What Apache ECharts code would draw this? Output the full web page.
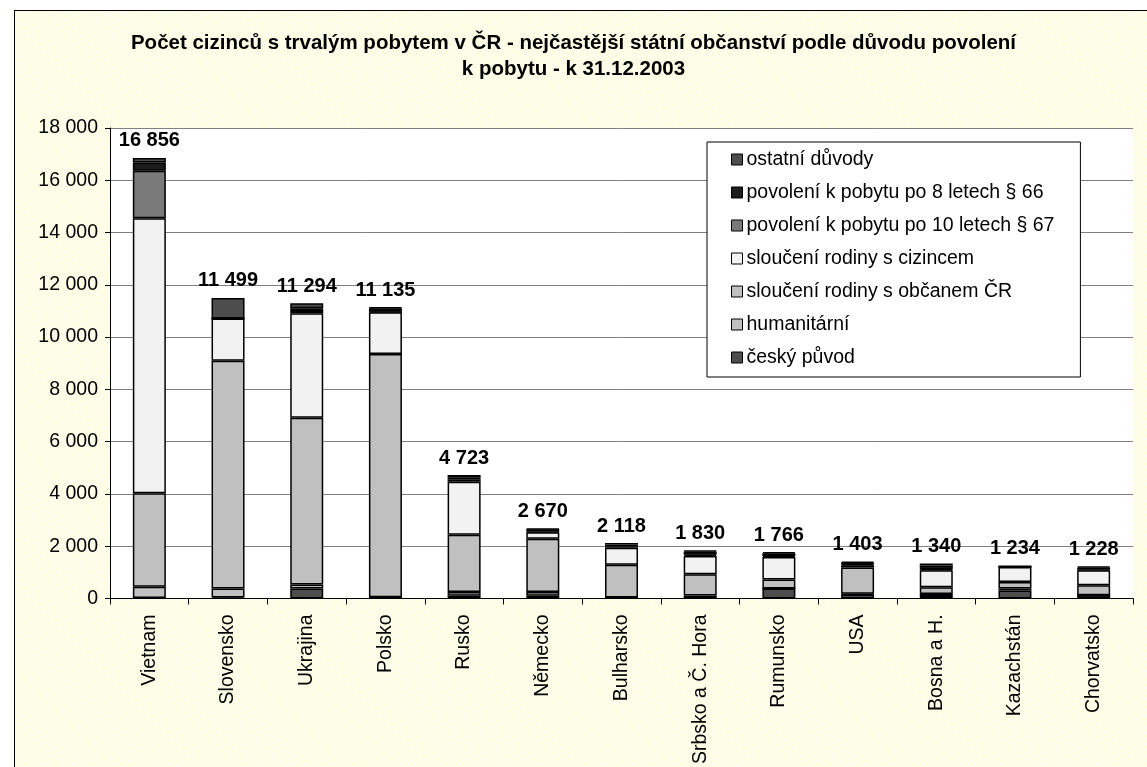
<!DOCTYPE html>
<html>
<head>
<meta charset="utf-8">
<script src="https://cdn.jsdelivr.net/npm/echarts@6/dist/echarts.min.js"></script>
<style>
  html, body { margin: 0; padding: 0; background: #fff; }
  #frame {
    position: absolute; left: 14px; top: 10px; width: 1200px; height: 800px;
    border: 1px solid #000;
    background: repeating-linear-gradient(45deg, #ffffe0 0px, #ffffe0 2px, #fbfbf0 2px, #fbfbf0 4px);
  }
  #main { position: absolute; left: 0; top: 0; width: 1147px; height: 767px; }
</style>
</head>
<body>
<div id="frame"></div>
<div id="main"></div>
<script>
// kategorie (státy)
const countries = ['Vietnam', 'Slovensko', 'Ukrajina', 'Polsko', 'Rusko', 'Německo', 'Bulharsko',
  'Srbsko a Č. Hora', 'Rumunsko', 'USA', 'Bosna a H.', 'Kazachstán', 'Chorvatsko'];

// hodnoty po důvodech povolení
const ceskyPuvod   = [20, 40, 380, 50, 100, 100, 40, 20, 380, 150, 60, 300, 120];
const humanitarni  = [425, 340, 153, 0, 150, 150, 0, 95, 0, 30, 110, 80, 0];
const slouceniCR   = [3577, 8714, 6381, 9300, 2186, 2033, 1253, 810, 343, 1000, 260, 253, 387];
const slouceniCiz  = [10529, 1613, 3996, 1597, 2030, 254, 647, 698, 863, 88, 647, 571, 570];
const povoleni67   = [1811, 0, 90, 20, 80, 20, 60, 50, 40, 40, 38, 0, 30];
const povoleni66   = [320, 0, 100, 140, 90, 90, 60, 120, 100, 60, 150, 25, 80];
const ostatni      = [174, 792, 194, 28, 87, 23, 58, 37, 40, 35, 75, 5, 41];

// celkem (popisky nad sloupci)
const totals = [16856, 11499, 11294, 11135, 4723, 2670, 2118, 1830, 1766, 1403, 1340, 1234, 1228];

const yTicks = { min: 0, max: 18000, interval: 2000 };

const seriesDef = [
  { name: 'český původ', data: ceskyPuvod, color: '#4d4d4d' },
  { name: 'humanitární', data: humanitarni, color: '#c0c0c0' },
  { name: 'sloučení rodiny s občanem ČR', data: slouceniCR, color: '#c0c0c0' },
  { name: 'sloučení rodiny s cizincem', data: slouceniCiz, color: '#f2f2f2' },
  { name: 'povolení k pobytu po 10 letech § 67', data: povoleni67, color: '#7a7a7a' },
  { name: 'povolení k pobytu po 8 letech § 66', data: povoleni66, color: '#1c1c1c' },
  { name: 'ostatní důvody', data: ostatni, color: '#4d4d4d' }
];

function fmt (v) {
  return String(v).replace(/\B(?=(\d{3})+(?!\d))/g, ' ');
}

const FONT = '"Liberation Sans", Arial, sans-serif';

var chart = echarts.init(document.getElementById('main'));

var option = {
  animation: false,
  backgroundColor: 'transparent',
  textStyle: { fontFamily: FONT },
  title: {
    text: 'Počet cizinců s trvalým pobytem v ČR - nejčastější státní občanství podle důvodu povolení\nk pobytu - k 31.12.2003',
    left: 'center',
    top: 25,
    textStyle: { fontFamily: FONT, fontSize: 20.5, fontWeight: 'bold', color: '#000', lineHeight: 26 }
  },
  legend: {
    orient: 'vertical',
    left: 707,
    top: 142,
    padding: [7, 26, 9, 24],
    itemGap: 12,
    itemWidth: 11,
    itemHeight: 11,
    backgroundColor: '#fff',
    borderColor: '#000',
    borderWidth: 1,
    borderRadius: 0,
    icon: 'rect',
    itemStyle: { borderColor: '#000', borderWidth: 1 },
    textStyle: { fontFamily: FONT, fontSize: 19.5, lineHeight: 21, color: '#000', padding: [0, 0, 0, -1] },
    data: seriesDef.map(s => s.name).reverse()
  },
  grid: {
    left: 110,
    right: 14,
    top: 128,
    bottom: 166,
    show: true,
    backgroundColor: '#fff',
    borderWidth: 0
  },
  xAxis: {
    type: 'category',
    data: countries,
    axisLine: { lineStyle: { color: '#000', width: 1 } },
    axisTick: { show: true, length: 6, lineStyle: { color: '#000' } },
    axisLabel: {
      rotate: 90,
      interval: 0,
      margin: 16,
      fontFamily: FONT,
      fontSize: 19.5,
      color: '#000'
    }
  },
  yAxis: {
    type: 'value',
    min: yTicks.min,
    max: yTicks.max,
    interval: yTicks.interval,
    axisLine: { show: true, lineStyle: { color: '#000', width: 1 } },
    axisTick: { show: true, length: 5, lineStyle: { color: '#000' } },
    splitLine: { show: true, lineStyle: { color: '#808080', width: 1 } },
    axisLabel: {
      margin: 12,
      fontFamily: FONT,
      fontSize: 19.5,
      color: '#000',
      formatter: fmt
    }
  },
  series: seriesDef.map((s, i) => ({
    name: s.name,
    type: 'bar',
    stack: 'total',
    barWidth: 33,
    data: s.data,
    itemStyle: { color: s.color, borderColor: '#000', borderWidth: 1.5 },
    label: i === seriesDef.length - 1 ? {
      show: true,
      position: 'top',
      distance: 7,
      fontFamily: FONT,
      fontSize: 20,
      fontWeight: 'bold',
      color: '#000',
      formatter: p => fmt(totals[p.dataIndex])
    } : { show: false }
  }))
};

chart.setOption(option);
window.addEventListener('resize', () => {
  chart.resize();
});
</script>
</body>
</html>
